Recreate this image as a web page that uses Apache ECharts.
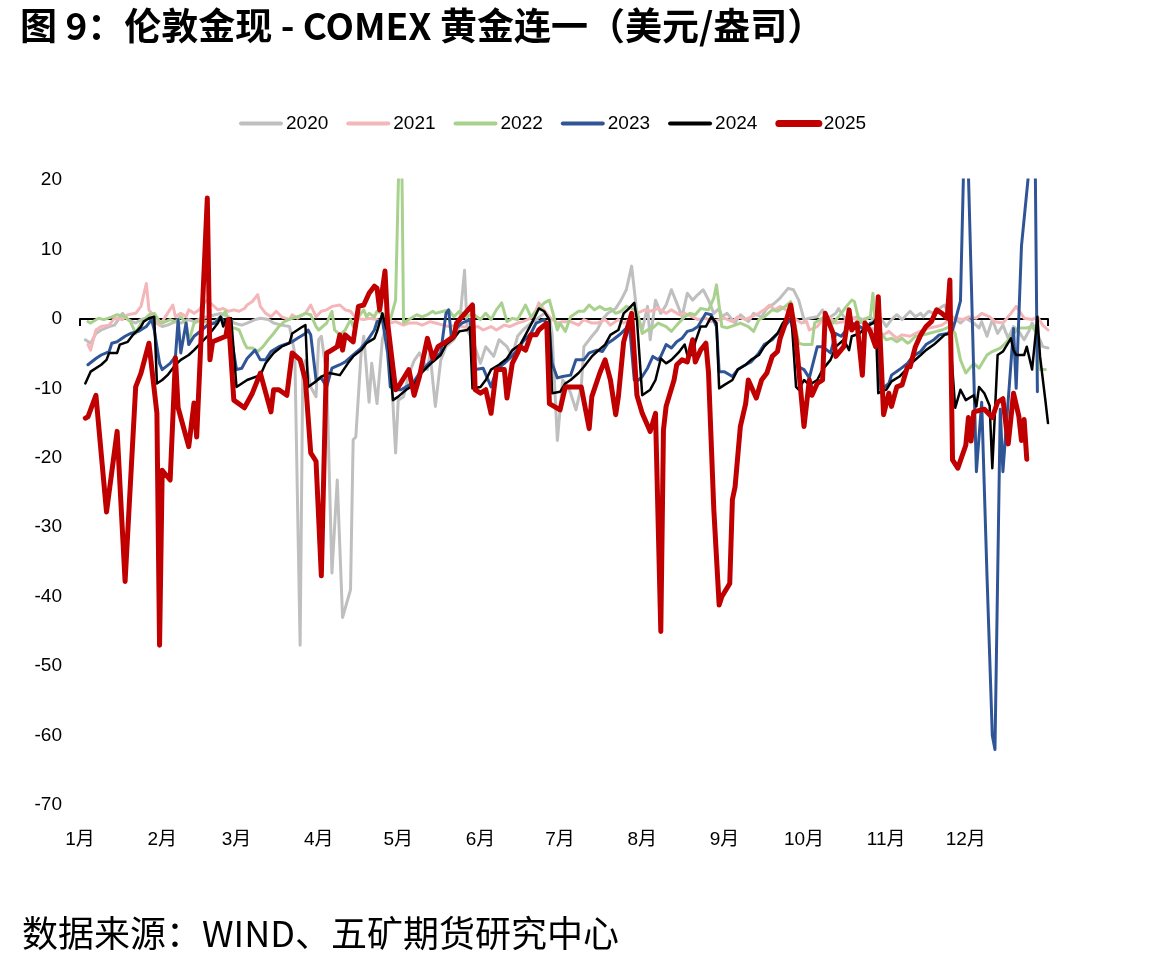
<!DOCTYPE html>
<html>
<head>
<meta charset="utf-8">
<script src="https://cdn.jsdelivr.net/npm/echarts@6/dist/echarts.min.js"></script>
<style>
  html, body { margin: 0; padding: 0; background: #fff; }
  #chart { width: 1165px; height: 968px; }
</style>
</head>
<body>
<div id="chart"></div>
<script>
// day of year for the month ticks, and their labels
var monthStarts = [0, 31, 59, 90, 120, 151, 181, 212, 243, 273, 304, 334];
var monthLabels = ['1月', '2月', '3月', '4月', '5月', '6月', '7月', '8月', '9月', '10月', '11月', '12月'];
var yearNames = ['2020', '2021', '2022', '2023', '2024', '2025'];

// [day of year, spread]
var d2020 = [[2,-3],[4,-3.5],[6,-2.1],[8,-1.6],[11,-1.1],[13,-0.9],[16,0.8],[18,-0.1],[21,-0.6],[23,-0.1],[26,0.3],[28,-0.4],[31,-1.1],[33,-0.9],[36,-0.4],[38,-0.6],[41,-0.1],[43,-0.4],[46,0.1],[48,0.3],[51,0.6],[53,0.8],[56,0.3],[58,-0.6],[61,-0.9],[63,-0.6],[66,-0.1],[68,0.1],[71,-0.1],[73,-0.6],[76,-0.9],[79,-1.1],[80,-3],[81,-5],[83,-47],[84,-7.3],[85,-6],[87,-9.8],[89,-11.2],[90,-3],[91,-2.5],[93,-8],[95,-36.6],[97,-23.2],[99,-43],[102,-39],[103,-17.4],[104,-17],[106,-4.9],[107,-2.5],[109,-12],[110,-6.4],[112,-12.2],[114,-3],[115,-1.6],[117,-5],[119,-19.3],[120,-11.7],[122,-11.2],[124,-8],[126,-6],[128,-4.9],[131,-7.3],[132,-5],[134,-12.6],[136,-6],[138,-4],[141,-3],[143,-1.1],[145,7],[146,-1.6],[148,-3],[151,-6.4],[153,-4],[156,-5.4],[158,-3],[161,-4],[163,-5.4],[165,-2.5],[167,-1.6],[170,-0.6],[172,-0.1],[175,0.8],[177,0.3],[178,-2.1],[180,-17.5],[182,-8.8],[184,-9.8],[185,-10.7],[187,-13.1],[189,-9.8],[190,-4],[193,-2.5],[195,-1.6],[197,-0.1],[199,0.8],[202,1.5],[204,2.7],[206,4.2],[208,7.6],[210,0.8],[212,-1.6],[214,1.8],[215,-3],[217,2.7],[219,0.8],[221,2],[223,4.2],[225,2.3],[227,0.3],[229,3.7],[231,2.7],[233,3.5],[235,4.2],[237,2.7],[239,0.8],[241,1.5],[242,0.3],[244,0.8],[247,-0.6],[249,0.6],[252,-0.4],[254,0.8],[257,0.3],[259,1.5],[262,2.3],[264,3],[267,4.4],[269,4.2],[271,2.7],[273,-0.1],[275,0.1],[278,0.3],[280,1.3],[282,-0.1],[283,0.3],[285,0.8],[286,1.5],[288,0.3],[290,-0.1],[293,0.3],[295,-0.1],[298,0.3],[300,-0.6],[302,0.1],[304,-1.1],[306,-0.1],[308,0.6],[310,-0.1],[313,1.1],[315,0.3],[317,0.8],[318,0.3],[320,1.1],[322,0.8],[324,1.5],[326,2],[327,1.1],[329,0.3],[332,-0.6],[334,0.1],[337,-0.6],[339,-1.3],[340,-0.4],[342,-2.5],[344,-0.1],[346,-2.1],[348,-0.9],[350,-2.8],[352,-1.1],[354,-1.8],[356,-3],[358,-1.6],[359,-0.6],[361,-2.1],[363,-4],[365,-4.2]];

var d2021 = [[3,-3.7],[4,-4.5],[6,-1.6],[8,-1.1],[11,-0.9],[13,0.1],[16,-0.1],[18,0.6],[21,0.8],[23,1.8],[25,5.1],[26,1.3],[28,0.3],[30,-0.9],[31,-0.4],[33,0.8],[35,2],[36,0.3],[38,0.8],[40,0.3],[41,1.3],[43,0.8],[45,1.3],[46,2],[48,2.7],[50,2],[52,1.3],[54,1.5],[56,1.1],[58,1.3],[60,1.1],[62,1.5],[63,2],[65,2.5],[67,3.5],[68,1.8],[70,0.8],[72,0.3],[74,1.1],[76,0.3],[79,-0.1],[80,0.6],[82,0.1],[85,0.8],[87,2],[89,0.3],[91,1.1],[93,1.3],[95,1.8],[98,2],[100,1.3],[102,1.1],[104,0.1],[107,-0.1],[109,0.1],[112,-0.1],[114,-0.4],[117,-0.6],[119,-0.4],[122,-0.9],[124,-0.6],[127,-0.6],[129,-0.9],[132,-0.4],[134,-0.6],[137,-0.9],[139,-1.1],[142,-0.9],[144,-1.1],[147,-1.3],[150,-1.1],[152,-1.6],[155,-1.1],[157,-1.6],[160,-0.9],[162,-1.1],[165,-0.6],[167,-0.4],[170,0.1],[172,1.3],[173,2.3],[175,1.3],[177,0.3],[180,-0.6],[182,-0.4],[185,-0.4],[188,-0.9],[190,-0.1],[193,-0.6],[195,-0.6],[198,-0.1],[200,-0.9],[203,-0.1],[205,-0.6],[208,0.1],[210,0.8],[213,1.3],[215,1.1],[218,1.5],[221,0.8],[223,1.3],[226,0.6],[228,0.8],[231,0.3],[233,-0.1],[236,0.1],[238,-0.4],[241,-0.1],[243,0.1],[246,-0.4],[248,0.3],[251,-0.1],[253,0.3],[256,0.8],[258,1.3],[260,2],[262,1.3],[264,1.8],[267,1.1],[270,-0.1],[272,-0.6],[274,-0.4],[275,-1.6],[278,-1.1],[280,-0.1],[283,0.1],[285,-0.6],[288,-0.4],[290,0.3],[293,-0.1],[295,-0.6],[298,-1.3],[300,-1.6],[303,-2.3],[305,-1.8],[308,-2.8],[310,-2.3],[313,-2.5],[315,-2.1],[318,-1.6],[320,-1.3],[323,-1.1],[325,-0.9],[328,-0.1],[330,0.1],[333,-0.1],[335,0.3],[338,0.1],[340,0.8],[343,0.3],[345,-0.4],[348,-0.6],[351,0.8],[353,1.8],[356,0.1],[359,-0.1],[361,0.3],[363,-0.9],[365,-1.6]];

var d2022 = [[3,-0.4],[4,-0.6],[7,0.1],[9,-0.1],[12,0.3],[14,0.6],[17,0.3],[19,-0.4],[21,-2.1],[23,-0.6],[26,0.6],[28,0.8],[30,-0.4],[31,-0.6],[34,-0.1],[36,-0.4],[38,0.3],[40,-0.6],[41,-3.3],[43,-0.6],[46,-0.1],[48,-0.6],[51,-0.4],[53,0.3],[55,1.1],[56,-1.1],[58,-1.3],[60,-1.6],[62,-3.5],[63,-4.2],[65,-4.2],[67,-4.7],[69,-4],[71,-3],[73,-2.1],[75,-1.1],[77,-0.4],[80,0.1],[82,0.3],[85,0.8],[87,0.6],[89,-1.1],[90,-1.6],[93,-0.6],[95,1.1],[96,-1.6],[98,-2.3],[100,-1.6],[102,-0.1],[103,-1.1],[105,0.3],[107,1.3],[108,0.3],[109,0.8],[111,0.3],[112,1.1],[114,0.8],[116,0.1],[117,-0.1],[119,2.7],[121,35],[122,-0.6],[124,-0.1],[127,0.6],[129,0.3],[131,0.6],[133,1.1],[134,0.8],[137,1.1],[139,1.3],[141,0.3],[143,1.1],[146,0.3],[148,0.8],[151,-0.1],[153,0.8],[155,-0.1],[157,1.3],[159,2.3],[161,-0.4],[163,0.1],[165,-0.1],[166,0.6],[168,2],[170,0.3],[172,1.1],[175,2.3],[177,2.7],[178,1.3],[180,-1.6],[181,-0.6],[183,-1.8],[185,0.3],[188,1.1],[190,1.1],[192,2],[194,1.3],[196,1.8],[198,1.3],[200,1.5],[202,0.8],[204,1.1],[206,1.8],[208,1.5],[210,1.1],[212,-2.1],[214,-1.6],[216,-1.3],[218,-0.6],[221,-1.1],[223,-1.8],[225,-0.9],[228,0.3],[230,0.8],[232,0.6],[234,1.5],[237,1.3],[239,3],[240,4.9],[242,-1.1],[244,-1.3],[247,-0.9],[249,-0.6],[252,-1.1],[254,-1.8],[256,-0.1],[258,0.3],[261,1.3],[263,1.1],[266,1.8],[268,2.5],[269,0.3],[271,-3.5],[273,-3.7],[276,-3.7],[277,-0.6],[279,-0.1],[281,0.3],[284,-0.6],[286,0.3],[289,1.8],[291,2.7],[292,2.5],[294,-0.6],[296,-0.1],[298,0.3],[299,3.7],[300,-1.6],[302,-2.1],[304,-3],[306,-2.8],[308,-3.3],[310,-2.8],[312,-3.5],[313,-3.3],[315,-2.5],[318,-2.3],[320,-2.1],[323,-1.8],[325,-1.6],[328,-1.1],[330,-2.1],[332,-5.9],[334,-7.8],[337,-6.4],[339,-7.1],[342,-5.2],[344,-4.7],[347,-4.2],[349,-3.5],[352,-2.1],[354,-1.3],[357,-1.3],[359,-1.1],[361,-2.1],[362,-7.3],[364,-7.3]];

var d2023 = [[3,-6.6],[6,-5.7],[8,-5.2],[11,-4.7],[12,-3.5],[14,-3.3],[17,-2.5],[19,-2.1],[22,-1.8],[25,-1.1],[27,-0.1],[28,-1.6],[30,-6.4],[31,-7.3],[34,-6.4],[36,-5.4],[37,-0.1],[38,-4.9],[40,-0.6],[41,-3.7],[43,-2.5],[46,-1.6],[48,-0.9],[51,-0.6],[53,0.3],[55,-0.9],[57,-2.5],[59,-7.3],[61,-7.1],[63,-5.7],[66,-4.5],[68,-5.9],[70,-5.9],[72,-4.7],[75,-4],[77,-3.7],[80,-3.3],[82,-2.8],[85,-2.1],[86,-1.6],[87,-2.3],[89,-8.8],[91,-8.5],[93,-9.8],[95,-7.1],[98,-6.6],[100,-6.2],[103,-5.2],[106,-4.2],[108,-3.3],[111,-1.6],[112,-0.4],[114,-0.1],[116,-4.9],[117,-9.8],[119,-10.2],[121,-10.2],[123,-9.8],[126,-9],[128,-7.8],[131,-6.6],[133,-5.9],[136,-4.9],[138,0.8],[139,1.3],[140,-2.5],[142,-1.3],[144,-0.6],[147,-0.1],[149,-7.3],[152,-7.1],[155,-9.8],[157,-7.3],[160,-6.4],[162,-5.7],[165,-4.5],[167,-3.3],[170,-2.1],[172,-0.6],[175,-0.1],[177,-1.6],[178,-6.4],[180,-8.5],[182,-8.3],[185,-8.1],[187,-5.9],[190,-5.9],[192,-4.9],[195,-4.5],[197,-4.7],[199,-3.5],[201,-3],[204,-2.1],[206,-1.3],[207,-0.1],[209,-8.8],[210,-9],[212,-8.3],[214,-7.1],[216,-5.4],[218,-5.9],[219,-5.4],[221,-3.7],[223,-4.2],[225,-3.3],[227,-2.8],[229,-1.8],[231,-1.6],[233,-1.1],[236,0.8],[238,0.6],[240,-1.1],[241,-7.6],[243,-7.6],[246,-8.3],[248,-7.3],[251,-6.6],[253,-6.2],[256,-4.9],[258,-3.7],[261,-3],[263,-2.1],[266,-0.9],[268,-0.1],[270,-4],[271,-6.9],[273,-7.3],[275,-8.5],[278,-4],[280,-4],[283,-4.9],[285,-2.1],[287,-2.5],[289,-1.6],[291,-0.6],[294,-1.1],[296,-1.6],[298,-0.6],[300,-0.6],[301,-4],[302,-10.2],[305,-9.3],[306,-8.1],[309,-7.3],[312,-6.4],[314,-5.4],[317,-4.7],[319,-3.7],[322,-3],[324,-2.3],[327,-2.1],[329,-1.6],[330,-0.3],[332,2.6],[334,35],[338,-22],[340,-12],[342,-37],[344,-60],[345,-62],[347,-13],[348,-22],[352,-1.4],[353,-10],[355,10.5],[360,30],[361,-10.5]];

var d2024 = [[2,-9.3],[4,-7.6],[8,-6.6],[10,-5.9],[11,-4.9],[14,-4.9],[15,-3.7],[18,-3.3],[20,-2.3],[23,-1.1],[24,-0.4],[26,0.1],[28,0.3],[29,-9.3],[31,-8.8],[33,-8.1],[36,-6.6],[38,-5.9],[41,-5.2],[43,-4.5],[45,-3.7],[48,-2.5],[50,-1.6],[52,-0.6],[53,0.3],[54,-1.1],[55,-0.1],[57,0.1],[59,-9.8],[63,-8.8],[68,-8.1],[70,-6.4],[73,-4.9],[76,-4],[79,-3.5],[80,-2.1],[82,-1.6],[84,-1.1],[85,-0.9],[86,-9.8],[89,-9],[91,-8.3],[94,-7.8],[98,-8.1],[101,-6.4],[103,-5.4],[106,-4.5],[108,-3.5],[111,-2.8],[112,-1.8],[114,0.8],[116,-2.1],[118,-11.7],[120,-11.2],[123,-10.2],[126,-9.5],[128,-8.1],[131,-6.9],[133,-6.2],[136,-5.2],[138,-3.7],[141,-2.8],[143,-1.8],[146,-1.6],[147,-1.2],[148,-10],[151,-9.8],[153,-8.8],[155,-7.3],[158,-6.6],[161,-5.7],[163,-4.5],[166,-3.7],[168,-2.3],[171,-0.1],[173,1.5],[175,1.1],[177,-0.1],[178,-10.7],[181,-10.5],[183,-9.3],[185,-8.8],[188,-7.8],[190,-6.9],[193,-5.4],[195,-4.7],[198,-3.7],[200,-2.3],[203,-1.6],[205,0.8],[207,1.5],[209,2.3],[210,-0.1],[212,-11],[215,-10.2],[217,-8.8],[219,-5.7],[221,-6.4],[223,-5.9],[226,-4.7],[228,-3.7],[229,-5.2],[231,-5.2],[232,-3.3],[234,-1.1],[236,-1.1],[238,0.3],[240,-0.6],[241,-10],[243,-9.5],[246,-8.8],[248,-7.3],[251,-6.6],[253,-5.9],[256,-5.2],[258,-4],[261,-2.8],[263,-2.1],[265,-0.6],[267,0.3],[268,1.8],[270,-9.8],[271,-10.2],[273,-8.8],[275,-9.5],[278,-8.8],[280,-7.3],[283,-5.9],[285,-4],[288,-3],[290,-4.5],[291,-2.5],[294,-2.1],[296,-1.3],[299,-0.6],[300,-0.1],[301,-10.7],[304,-10.2],[306,-9],[309,-8.3],[312,-7.1],[314,-6.2],[317,-5.2],[319,-4.5],[322,-3.7],[324,-3],[326,-2.3],[328,-2.1],[330,-12.8],[332,-10.2],[334,-11.7],[337,-11],[338,-12.6],[339,-9.8],[341,-10.7],[343,-12.5],[344,-21.5],[346,-5.2],[348,-4.7],[351,-2.8],[352,-4.5],[353,-5.2],[356,-5.2],[357,-4],[359,-7.3],[361,0.3],[362,-5.4],[364,-11.7],[365,-15]];

var d2025 = [[2,-14.3],[3,-14.1],[6,-11],[10,-27.8],[14,-16.2],[17,-37.8],[21,-9.8],[23,-7.8],[26,-3.5],[29,-13.6],[30,-47],[31,-21.8],[34,-23.2],[36,-5.6],[37,-12.8],[41,-18.4],[43,-12.1],[44,-17],[48,17.4],[49,-5.9],[50,-3.3],[55,-2.5],[56,-0.1],[58,-11.7],[62,-12.8],[65,-10.7],[68,-7.8],[72,-13.4],[73,-10.2],[75,-10.2],[78,-11],[80,-4.9],[83,-5.9],[85,-8.8],[87,-19.3],[89,-20.5],[91,-37],[93,-4.9],[94,-4.7],[97,-4],[98,-2.3],[99,-4.5],[100,-2.3],[103,-3.3],[105,1.8],[107,2],[109,3.7],[111,4.7],[112,4.4],[113,1.3],[115,6.9],[116,-0.6],[119,-10.2],[120,-9.8],[124,-7.3],[126,-11],[128,-8.3],[131,-2.8],[133,-5.7],[135,-4],[138,-3.3],[141,-2.5],[142,-0.6],[144,0.3],[148,2],[149,-10.2],[151,-10.7],[153,-10.2],[155,-13.6],[157,-7.3],[160,-7.3],[161,-11.4],[163,-6.4],[165,-4.9],[166,-4],[168,-4.5],[170,-2.3],[172,-2.3],[173,-1.6],[176,-0.6],[177,-12.2],[181,-13.1],[183,-9.8],[186,-9.8],[189,-9.8],[192,-15.8],[193,-11.2],[196,-7.8],[198,-5.9],[200,-8.8],[202,-13.8],[203,-11.2],[205,-3.3],[207,-0.6],[208,0.8],[210,-11],[212,-13.6],[215,-16.2],[217,-13.6],[219,-45],[220,-16],[221,-12.6],[224,-8.8],[225,-6.6],[227,-5.9],[229,-6.2],[231,-3],[232,-6.2],[234,-4.5],[236,-3.5],[237,-7.8],[239,-27.5],[241,-41.2],[242,-40],[245,-38.1],[246,-26],[247,-24.2],[249,-15.5],[251,-12.2],[252,-8.8],[255,-11.4],[257,-8.8],[259,-7.8],[261,-5.4],[263,-4.7],[264,-2.8],[266,-0.6],[268,2],[270,-3],[273,-15.5],[275,-8.8],[276,-11],[278,-9.3],[280,-8.8],[281,0.8],[284,-2.1],[285,-5.4],[288,-4],[290,1.3],[291,-1.6],[293,-0.6],[295,-8.1],[296,-0.6],[298,-1.8],[300,-4],[301,3.2],[303,-13.8],[305,-10.7],[306,-12.6],[308,-9.8],[310,-9.5],[312,-6.9],[313,-6.9],[315,-4],[317,-2.3],[319,-1.1],[321,-0.4],[323,1.3],[325,0.8],[327,0.1],[328,5.6],[329,-20.3],[331,-21.5],[334,-18.2],[335,-14.2],[336,-17.6],[337,-13.4],[341,-13],[344,-14.2],[346,-12],[348,-11.5],[350,-18],[352,-10.7],[354,-14],[355,-17.5],[356,-14.5],[357,-20.2]];

var yearData = [d2020, d2021, d2022, d2023, d2024, d2025];
var yearColors = ['#BFBFBF', '#F4B6B8', '#A9D18E', '#2F5597', '#000000', '#C00000'];
var yearWidths = [3, 3, 3, 3, 2.5, 5];
var legendWidths = [4, 4, 4, 4, 4, 7];

var numFont = "'Liberation Sans', 'Noto Sans CJK SC', sans-serif";
var cjkFont = "'Noto Sans CJK SC', sans-serif";

var chart = echarts.init(document.getElementById('chart'), null, { renderer: 'canvas' });

var series = yearNames.map(function (name, i) {
    return {
        name: name,
        type: 'line',
        xAxisIndex: 0,
        yAxisIndex: 0,
        data: yearData[i],
        symbol: 'none',
        showSymbol: false,
        clip: true,
        color: yearColors[i],
        lineStyle: { color: yearColors[i], width: yearWidths[i], cap: 'round', join: 'round' },
        emphasis: { disabled: true }
    };
});

var legendItems = yearNames.map(function (name, i) {
    return { name: name, lineStyle: { width: legendWidths[i], cap: 'round' } };
});

var option = {
    animation: false,
    backgroundColor: '#fff',
    title: [
        {
            text: '图 9：伦敦金现 - COMEX 黄金连一（美元/盎司）',
            left: 20, top: 7, padding: 0,
            textStyle: { fontFamily: cjkFont, fontSize: 37, fontWeight: 'bold', color: '#000' }
        },
        {
            text: '数据来源：WIND、五矿期货研究中心',
            left: 22, top: 915, padding: 0,
            textStyle: { fontFamily: cjkFont, fontSize: 36, fontWeight: 'normal', color: '#000' }
        }
    ],
    legend: {
        data: legendItems,
        left: 234, top: 109,
        itemWidth: 40, itemHeight: 14, itemGap: 18,
        itemStyle: { opacity: 0 },
        textStyle: { fontFamily: numFont, fontSize: 19, color: '#000' }
    },
    grid: { left: 80, right: 117, top: 180, bottom: 163, containLabel: false },
    xAxis: [
        {
            type: 'value', min: 0, max: 365, position: 'bottom',
            axisLine: { show: false, onZero: false },
            axisTick: { show: false },
            splitLine: { show: false },
            axisLabel: {
                customValues: monthStarts,
                formatter: function (v) { return monthLabels[monthStarts.indexOf(v)]; },
                margin: 25, fontFamily: numFont, fontSize: 19, color: '#000'
            }
        },
        {
            type: 'value', min: 0, max: 365, position: 'top',
            axisLine: { show: true, onZero: true, lineStyle: { color: '#000', width: 2 } },
            axisTick: { show: true, inside: true, length: 7, customValues: [0, 365], lineStyle: { color: '#000', width: 2 } },
            splitLine: { show: false },
            axisLabel: { show: false }
        }
    ],
    yAxis: {
        type: 'value', min: -70, max: 20, interval: 10,
        axisLine: { show: false },
        axisTick: { show: false },
        splitLine: { show: false },
        axisLabel: { margin: 18, fontFamily: numFont, fontSize: 19, color: '#000' }
    },
    series: series
};

chart.setOption(option);
</script>
</body>
</html>
